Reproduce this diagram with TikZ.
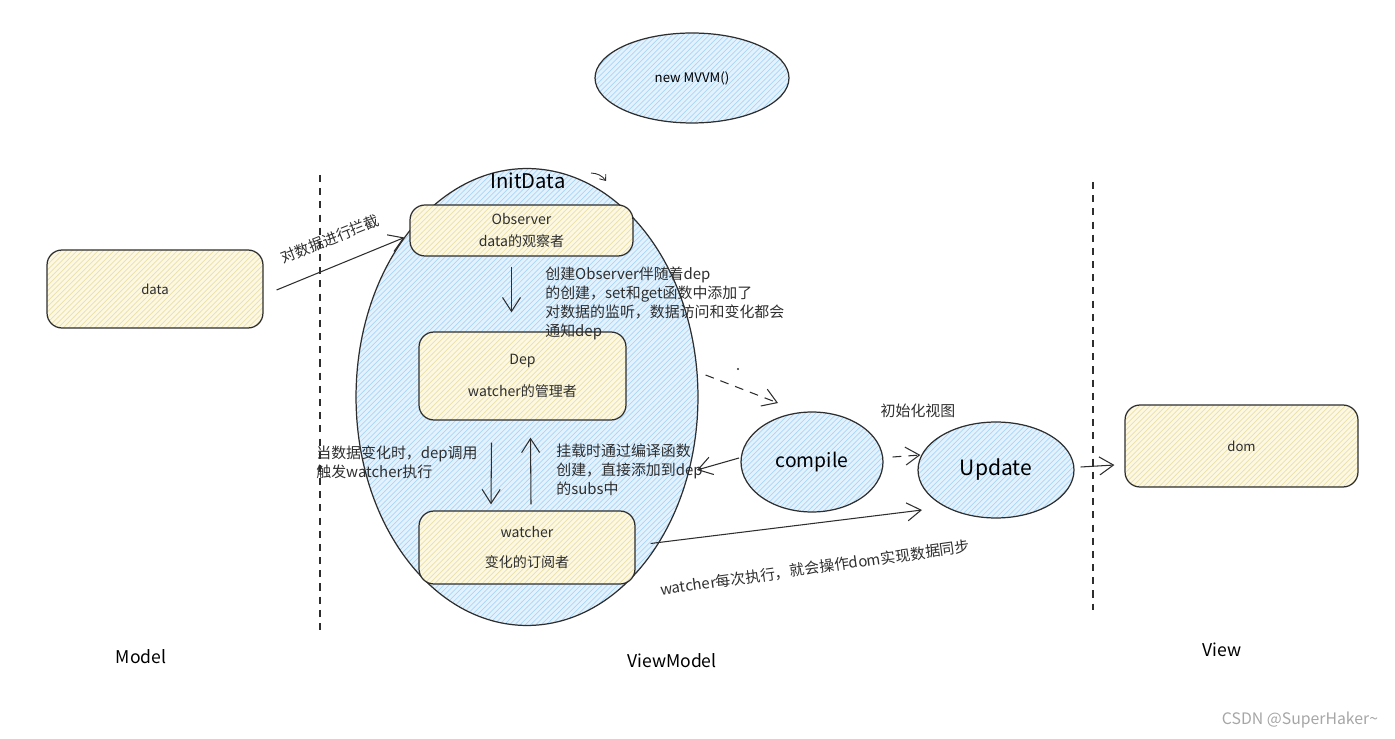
\documentclass[tikz,border=0pt]{standalone}
\usepackage{fontspec}
\setmainfont{Noto Sans CJK SC}
\usetikzlibrary{shapes.geometric,arrows.meta,calc,patterns}
\definecolor{paleblue}{HTML}{E4F2FD}
\definecolor{hatchblue}{HTML}{A9D6FA}
\definecolor{paleyellow}{HTML}{FCF8E3}
\definecolor{hatchyellow}{HTML}{EAE0A8}
\definecolor{inkgray}{HTML}{2E2E2E}
\tikzset{
  box/.style={draw=inkgray, line width=0.7pt, rounded corners=0.3cm, preaction={fill=paleyellow},
    pattern=north east lines, pattern color=hatchyellow, align=center, text=inkgray,
    font=\fontsize{8}{10}\selectfont},
  blob/.style={ellipse, draw=inkgray, line width=0.7pt, preaction={fill=paleblue},
    pattern=north east lines, pattern color=hatchblue, inner sep=0pt, text=black},
  note/.style={align=left, anchor=north west, font=\fontsize{8.5}{10.8}\selectfont, text=inkgray, inner sep=0pt},
  arr/.style={-{Straight Barb[length=2.8mm,width=3.6mm]}, draw=inkgray, line width=0.6pt},
  dasharr/.style={arr, dash pattern=on 5pt off 4pt},
  divider/.style={draw=inkgray, line width=0.6pt, dash pattern=on 4pt off 3.5pt},
  tag/.style={font=\fontsize{10}{12}\selectfont, text=black}
}
\begin{document}
\begin{tikzpicture}[x=0.02cm, y=-0.02cm]
  \useasboundingbox (0,0) rectangle (1395,739);

  % column dividers
  \draw[divider] (320,175) -- (320,630);
  \draw[divider] (1093,182) -- (1093,610);

  % ellipses
  \node[blob, minimum width=3.88cm, minimum height=1.8cm, font=\fontsize{7.5}{9}\selectfont] (mvvm) at (692,78) {new MVVM()};
  \node[blob, minimum width=6.84cm, minimum height=9.14cm] (initdata) at (527,397) {};
  \node[font=\fontsize{11.5}{13}\selectfont] (initlabel) at (528,181) {InitData};
  \draw[inkgray, line width=0.5pt, -{Straight Barb[length=1mm,width=1.6mm]}] (591,173) to[bend left=25] (606,181);
  \node[blob, minimum width=2.84cm, minimum height=2cm, font=\fontsize{11}{13}\selectfont] (compile) at (812,462) {compile};
  \node[blob, minimum width=3.12cm, minimum height=1.92cm, font=\fontsize{12}{14}\selectfont] (update) at (996,470) {Update};

  % boxes
  \node[box, minimum width=4.32cm, minimum height=1.56cm, font=\fontsize{7.5}{9}\selectfont] (data) at (155,289) {data};
  \node[box, minimum width=4.46cm, minimum height=1.02cm] (observer) at (521.5,230.5) {Observer\\[3pt]data的观察者};
  \node[box, minimum width=4.14cm, minimum height=1.76cm] (dep) at (522.5,376) {Dep\\[8pt]watcher的管理者};
  \node[box, minimum width=4.32cm, minimum height=1.46cm] (watcher) at (527,547.5) {watcher\\[7pt]变化的订阅者};
  \node[box, minimum width=4.66cm, minimum height=1.64cm, font=\fontsize{7.5}{9}\selectfont] (dom) at (1241.5,446) {dom};

  % notes
  \node[note, rotate=22, anchor=center] (cutnote) at (330,239) {对数据进行拦截};
  \node[note] (obsnote) at (545,267) {创建Observer伴随着dep\\的创建，set和get函数中添加了\\对数据的监听，数据访问和变化都会\\通知dep};
  \node[note] (trignote) at (316,445) {当数据变化时，dep调用\\触发watcher执行};
  \node[note] (mountnote) at (556,444) {挂载时通过编译函数\\创建，直接添加到dep\\的subs中};
  \node[note, anchor=center] (initnote) at (918,411) {初始化视图};
  \node[note, rotate=8, anchor=center] (syncnote) at (815,568) {watcher每次执行，就会操作dom实现数据同步};
  \fill[inkgray] (738,369) circle (1.2);

  % connectors
  \draw[arr] ($(data.east)+(13,1)$) -- ($(observer.west)+(-5,7)$);
  \draw[arr] ($(observer.south)+(-10,10)$) -- ($(dep.north)+(-11,-19)$);
  \draw[arr] ($(dep.south)+(-31,22)$) -- ($(watcher.north)+(-36,-6)$);
  \draw[arr] ($(watcher.north)+(4,-6)$) -- ($(dep.south)+(8,17)$);
  \draw[dasharr] ($(initdata.east)+(7,-22)$) -- ($(compile.center)+(-34,-59)$);
  \draw[arr] ($(compile.center)+(-73,-4)$) -- ($(initdata.center)+(170,73)$);
  \draw[dasharr] ($(compile.east)+(9,-5)$) -- ($(update.west)+(3,-15)$);
  \draw[arr] ($(watcher.east)+(15,-4)$) -- ($(update.center)+(-74,40)$);
  \draw[arr] ($(update.east)+(6,-3)$) -- ($(dom.west)+(-10,19)$);

  % layer names
  \node[tag] (model) at (141,657) {Model};
  \node[tag] (viewmodel) at (672,661) {ViewModel};
  \node[tag] (view) at (1222,650) {View};
  \node[font=\fontsize{9}{11}\selectfont, text=gray!70] (credit) at (1300,720) {CSDN @SuperHaker\textasciitilde};
\end{tikzpicture}
\end{document}
